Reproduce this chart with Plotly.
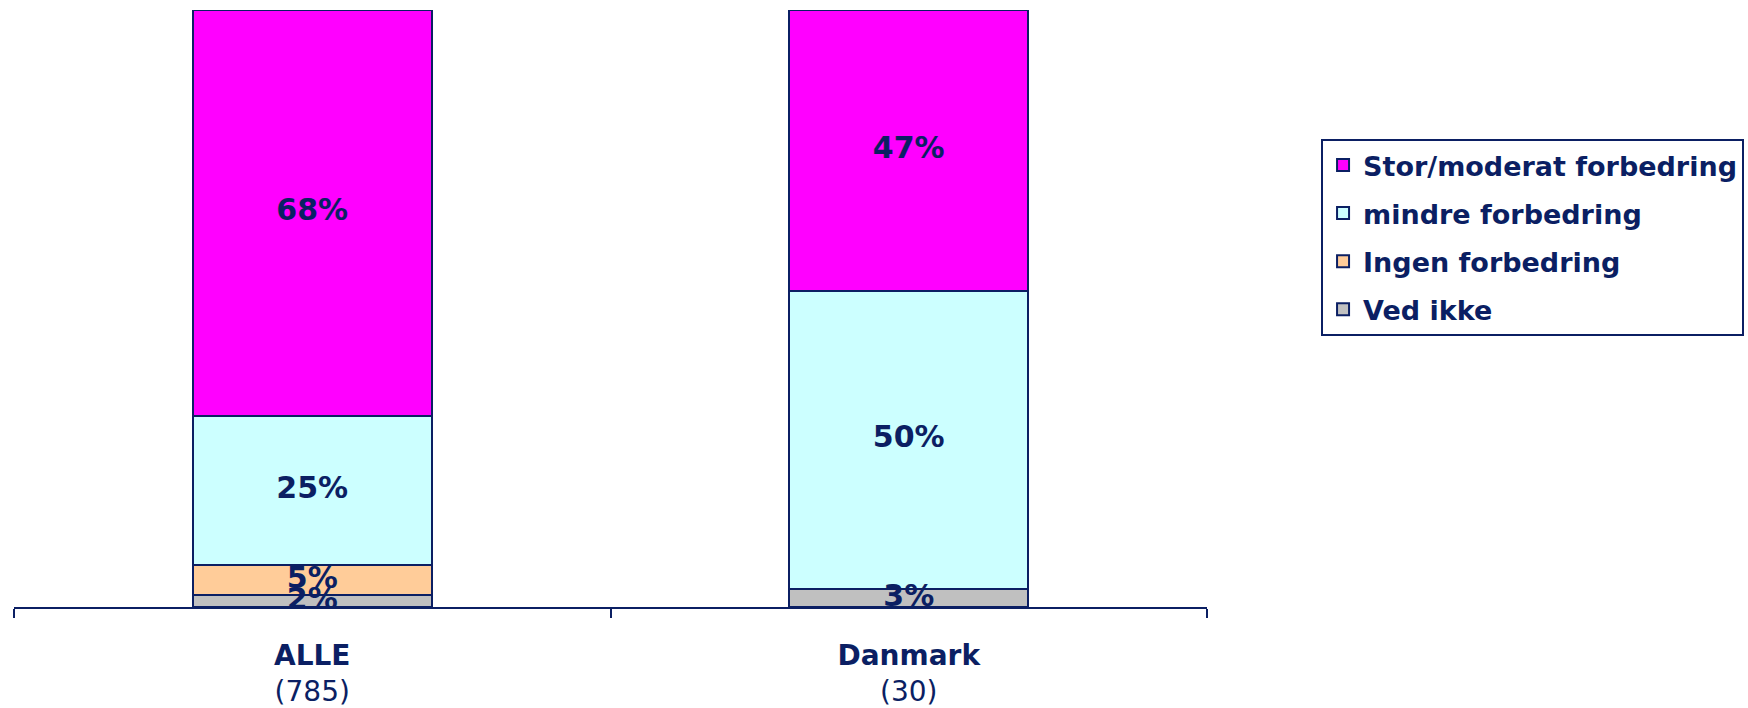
import plotly.graph_objects as go

# Survey groups shown along the x axis, with respondent counts
groups = ["ALLE", "Danmark"]
counts = ["(785)", "(30)"]

# Share of answers (%) per response category, listed bottom to top of the stack
series_names = ["Ved ikke", "Ingen forbedring", "mindre forbedring", "Stor/moderat forbedring"]
ved_ikke = [2, 3]
ingen = [5, 0]
mindre = [25, 50]
stor = [68, 47]

series_values = [ved_ikke, ingen, mindre, stor]
series_colors = ["#C0C0C0", "#FFCC99", "#CCFFFF", "#FF00FF"]

NAVY = "#0B1F63"
FONT = "DejaVu Sans, Verdana, sans-serif"

tick_text = [f"<b>{g}</b><br>{c}" for g, c in zip(groups, counts)]

fig = go.Figure()

n = len(series_names)
for i, (name, vals, color) in enumerate(zip(series_names, series_values, series_colors)):
    fig.add_trace(go.Bar(
        x=groups,
        y=vals,
        name=f"<b>{name}</b>",
        legendgroup=name,
        legendrank=n - i,
        marker=dict(color=color, line=dict(color=NAVY, width=2)),
        hoverinfo="skip",
    ))

# Percentage labels centred in each non-empty segment
lab_x, lab_y, lab_t = [], [], []
base = [0.0] * len(groups)
for vals in series_values:
    for j, v in enumerate(vals):
        if v > 0:
            lab_x.append(groups[j])
            lab_y.append(base[j] + v / 2)
            lab_t.append(f"<b>{v}%</b>")
        base[j] += v

fig.add_trace(go.Scatter(
    x=lab_x, y=lab_y, text=lab_t, mode="text",
    textfont=dict(family=FONT, size=30, color=NAVY),
    showlegend=False, hoverinfo="skip", cliponaxis=False,
))

fig.update_layout(
    width=1748, height=708,
    margin=dict(l=14, r=541, t=10, b=101, autoexpand=False),
    paper_bgcolor="white", plot_bgcolor="white",
    barmode="stack",
    bargap=0.6,
    font=dict(family=FONT, size=28, color=NAVY),
    showlegend=True,
    legend=dict(
        x=1.0956, y=0.784, xanchor="left", yanchor="top",
        bgcolor="white", bordercolor=NAVY, borderwidth=2,
        traceorder="grouped", tracegroupgap=10,
        font=dict(family=FONT, size=27, color=NAVY),
        itemsizing="constant",
    ),
    xaxis=dict(
        type="category",
        range=[-0.5, 1.5],
        tickmode="array", tickvals=groups, ticktext=tick_text,
        tickson="boundaries", ticks="outside", ticklen=9, tickwidth=2, tickcolor=NAVY,
        ticklabelstandoff=22,
        showline=True, linecolor=NAVY, linewidth=2,
        showgrid=False, zeroline=False,
        tickfont=dict(family=FONT, size=28, color=NAVY),
    ),
    yaxis=dict(
        range=[0, 100],
        visible=False, showgrid=False, zeroline=False,
    ),
)

fig.write_html("out.html")
